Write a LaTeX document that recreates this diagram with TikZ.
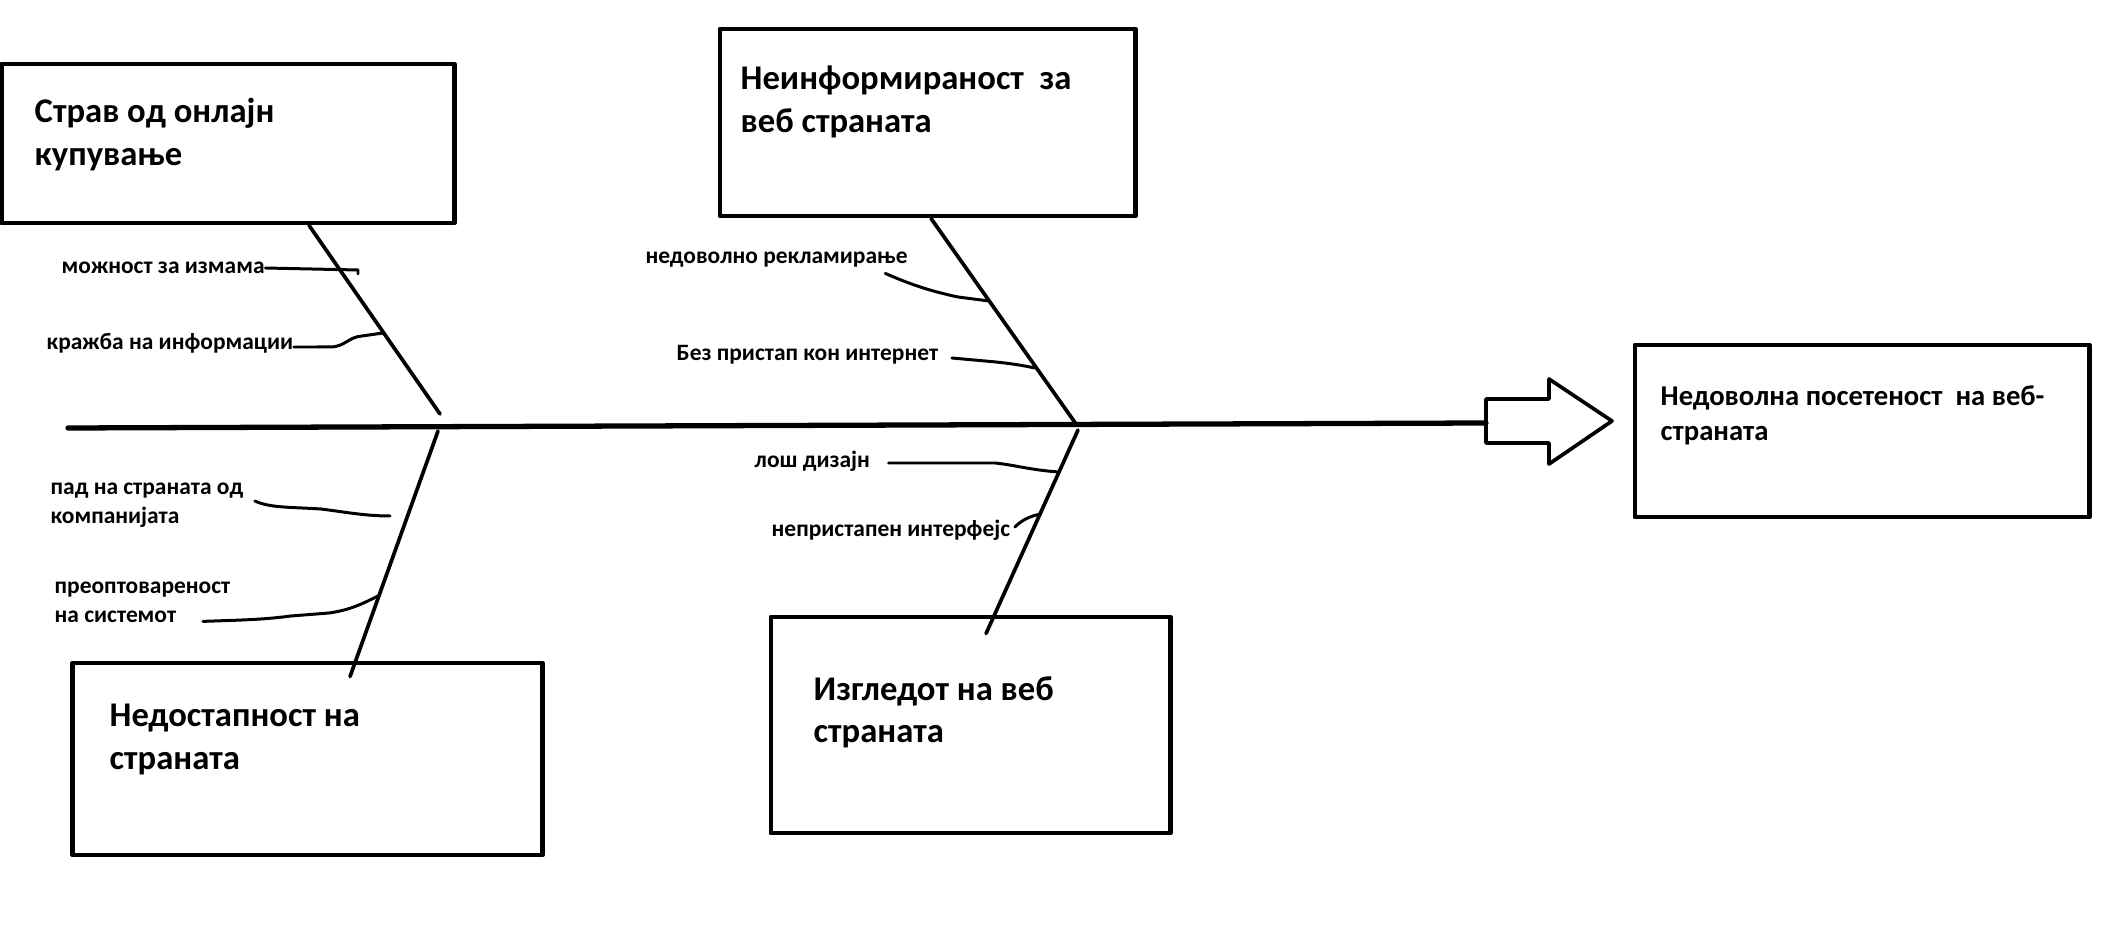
\documentclass[tikz,border=0pt]{standalone}
\usepackage{fontspec}
\setmainfont{Carlito}
\begin{document}
\begin{tikzpicture}[x=0.01cm,y=-0.01cm,line join=round,line cap=round,
	box/.style={draw,line width=1.35pt,inner sep=0},
	cause/.style={font=\fontsize{9.85}{12.04}\selectfont\bfseries,align=left,anchor=west,inner sep=0},
	effect/.style={font=\fontsize{8.16}{9.96}\selectfont\bfseries,align=left,anchor=west,inner sep=0},
	sub/.style={font=\fontsize{6.67}{8.14}\selectfont\bfseries,align=left,anchor=west,inner sep=0},
	bone/.style={line width=1.05pt},
	twig/.style={line width=0.85pt}]
	\useasboundingbox (0,0) rectangle (2118,934);
	\node[box,minimum width=4.52cm,minimum height=1.59cm] (fear) at (228,143.5) {};
	\node[box,minimum width=4.15cm,minimum height=1.87cm] (info) at (927.5,122.5) {};
	\node[box,minimum width=4.69cm,minimum height=1.92cm] (down) at (307.5,759) {};
	\node[box,minimum width=3.99cm,minimum height=2.16cm] (look) at (970.5,725) {};
	\node[box,minimum width=4.54cm,minimum height=1.72cm] (result) at (1862,431) {};
	\node[cause] (tfear) at (34,134.5) {Страв од онлајн\\купување};
	\node[cause] (tinfo) at (740,102) {Неинформираност\ \ за\\веб страната};
	\node[cause] (tdown) at (109,739.5) {Недостапност на\\страната};
	\node[cause] (tlook) at (813,712.5) {Изгледот на веб\\страната};
	\node[effect] (tresult) at (1660,415.5) {Недоволна посетеност\ \ на веб-\\страната};
	\draw[line width=1.5pt] (68,428) -- (1486,423);
	\draw[line width=1.05pt] (1486,399) -- (1549,399) -- (1549,379) -- (1612,421) -- (1549,464) -- (1549,443) -- (1486,443) -- cycle;
	\coordinate (j1) at (440,414);
	\coordinate (j2) at (438,431);
	\coordinate (j3) at (1076,424);
	\coordinate (j4) at (1078,430);
	\draw[bone] ([xshift=0.81cm]fear.south) -- (j1);
	\draw[bone] (j2) -- ([xshift=0.425cm,yshift=-0.16cm]down.north);
	\draw[bone] ([xshift=0.035cm]info.south) -- (j3);
	\draw[bone] (j4) -- ([xshift=0.155cm,yshift=-0.19cm]look.north);
	\node[sub] (l1) at (61,268) {можност за измама};
	\node[sub] (l2) at (46,343) {кражба на информации};
	\node[sub] (l3) at (645,260) {недоволно рекламирање};
	\node[sub] (l4) at (676,355) {Без пристап кон интернет};
	\node[sub] (l5) at (50,505.5) {пад на страната од\\компанијата};
	\node[sub] (l6) at (54,602.5) {преоптовареност\\на системот};
	\node[sub] (l7) at (754,461) {лош дизајн};
	\node[sub] (l8) at (771,530) {непристапен интерфејс};
	\coordinate (m1) at (358,270);
	\coordinate (m2) at (383,333);
	\coordinate (m3) at (989,301);
	\coordinate (m4) at (1035,368);
	\coordinate (m5) at (390,516);
	\coordinate (m6) at (378,596);
	\coordinate (m7) at (1059,472);
	\coordinate (m8) at (1041,514);
	\draw[twig] (l1.east) -- (m1) -- ++(0,4);
	\draw[twig] ([yshift=-0.04cm]l2.east) -- (330,347) .. controls (345,347) and (348,337) .. (362,336) -- (m2);
	\draw[twig] ([xshift=-0.23cm,yshift=-0.05cm]l3.south east) .. controls (905,282) and (925,290) .. (958,297) -- (m3);
	\draw[twig] ([xshift=0.13cm,yshift=-0.03cm]l4.east) -- (996,362) .. controls (1015,364) and (1025,366) .. (m4);
	\draw[twig] ([xshift=0.11cm,yshift=0.045cm]l5.east) .. controls (270,508) and (290,507) .. (321,509) .. controls (345,512) and (365,516) .. (m5);
	\draw[twig] ([xshift=-0.28cm,yshift=0.02cm]l6.south east) .. controls (240,620) and (260,620) .. (291,616) -- (329,613) .. controls (350,610) and (362,604) .. (m6);
	\draw[twig] ([xshift=0.18cm,yshift=-0.02cm]l7.east) -- (995,463) .. controls (1015,465) and (1030,470) .. (m7);
	\draw[twig] ([xshift=0.04cm,yshift=0.03cm]l8.east) .. controls (1022,520) and (1030,516) .. (m8);
\end{tikzpicture}
\end{document}
